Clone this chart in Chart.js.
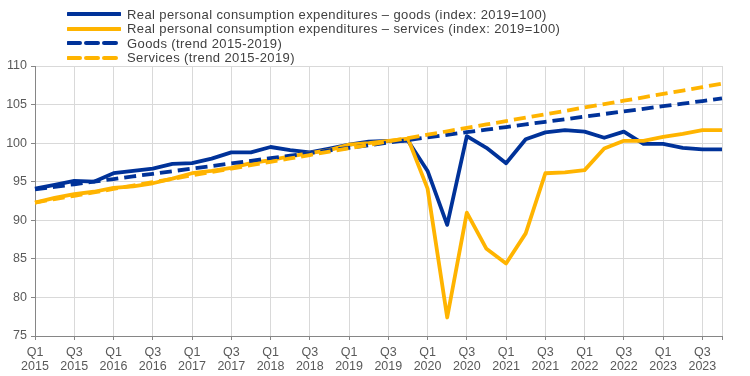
<!DOCTYPE html>
<html>
<head>
<meta charset="utf-8">
<script src="https://cdn.jsdelivr.net/npm/chart.js@4/dist/chart.umd.min.js"></script>
<style>
  html, body { margin: 0; padding: 0; background: #ffffff; }
  #wrap { position: relative; width: 750px; height: 376px; overflow: hidden; }
  #c { position: absolute; left: 0; top: 0; }
  #legend { position: absolute; left: 67px; top: 7px; font-family: "Liberation Sans", Arial, sans-serif; font-size: 13px; color: #404040; letter-spacing: 0.4px; }
  .row { display: flex; align-items: center; height: 14.5px; white-space: nowrap; }
  .row svg { margin-right: 6px; flex: none; }
</style>
</head>
<body>
<div id="wrap">
  <canvas id="c" width="750" height="376"></canvas>
  <div id="legend"></div>
</div>
<script>
// ---- Data ----
const quarters = [
  ['Q1','2015'],['Q2','2015'],['Q3','2015'],['Q4','2015'],
  ['Q1','2016'],['Q2','2016'],['Q3','2016'],['Q4','2016'],
  ['Q1','2017'],['Q2','2017'],['Q3','2017'],['Q4','2017'],
  ['Q1','2018'],['Q2','2018'],['Q3','2018'],['Q4','2018'],
  ['Q1','2019'],['Q2','2019'],['Q3','2019'],['Q4','2019'],
  ['Q1','2020'],['Q2','2020'],['Q3','2020'],['Q4','2020'],
  ['Q1','2021'],['Q2','2021'],['Q3','2021'],['Q4','2021'],
  ['Q1','2022'],['Q2','2022'],['Q3','2022'],['Q4','2022'],
  ['Q1','2023'],['Q2','2023'],['Q3','2023'],['Q4','2023']
];

const goods = [
  94.1, 94.6, 95.1, 95.0, 96.1, 96.4, 96.7, 97.3, 97.4, 98.0,
  98.8, 98.8, 99.5, 99.1, 98.8, 99.3, 99.8, 100.2, 100.3, 100.3,
  96.4, 89.4, 100.9, 99.4, 97.4, 100.5, 101.4, 101.7, 101.5, 100.7,
  101.5, 99.9, 99.9, 99.4, 99.2, 99.2
];

const services = [
  92.3, 92.9, 93.4, 93.7, 94.2, 94.4, 94.8, 95.4, 96.1, 96.4,
  96.8, 97.4, 97.8, 98.3, 98.7, 99.1, 99.8, 100.0, 100.3, 100.6,
  94.1, 77.4, 91.0, 86.3, 84.4, 88.3, 96.1, 96.2, 96.5, 99.3,
  100.3, 100.3, 100.8, 101.2, 101.7, 101.7
];

const goodsTrend = [
  94.00, 94.34, 94.67, 95.01, 95.35, 95.69, 96.02, 96.36, 96.70, 97.03,
  97.37, 97.71, 98.05, 98.38, 98.72, 99.06, 99.39, 99.73, 100.07, 100.41,
  100.74, 101.08, 101.42, 101.75, 102.09, 102.43, 102.77, 103.10, 103.44, 103.78,
  104.11, 104.45, 104.79, 105.12, 105.46, 105.80
];

const servicesTrend = [
  92.30, 92.74, 93.18, 93.62, 94.06, 94.50, 94.94, 95.38, 95.82, 96.26,
  96.70, 97.14, 97.58, 98.02, 98.46, 98.90, 99.34, 99.78, 100.22, 100.66,
  101.10, 101.54, 101.98, 102.42, 102.86, 103.30, 103.74, 104.18, 104.62, 105.06,
  105.50, 105.94, 106.38, 106.82, 107.26, 107.70
];

const seriesNames = [
  'Real personal consumption expenditures \u2013 goods (index: 2019=100)',
  'Real personal consumption expenditures \u2013 services (index: 2019=100)',
  'Goods (trend 2015-2019)',
  'Services (trend 2015-2019)'
];

const yTicks = { min: 75, max: 110, step: 5 };

// ---- Styling ----
const BLUE = '#003299';
const YELLOW = '#FFB400';
const GRID = '#d9d9d9';
const AXIS = '#868686';
const TXT = '#595959';
const DASH = [12, 6];

const styles = [
  { color: BLUE, dash: [] },
  { color: YELLOW, dash: [] },
  { color: BLUE, dash: DASH },
  { color: YELLOW, dash: DASH }
];

const seriesData = [goods, services, goodsTrend, servicesTrend];
const drawOrder = [3, 2, 1, 0];

const datasets = seriesData.map((d, i) => ({
  label: seriesNames[i],
  data: d,
  borderColor: styles[i].color,
  backgroundColor: styles[i].color,
  borderWidth: 3.8,
  borderDash: styles[i].dash,
  borderCapStyle: 'butt',
  borderJoinStyle: 'round',
  pointRadius: 0,
  pointHoverRadius: 0,
  tension: 0,
  fill: false,
  order: drawOrder[i]
}));

// HTML legend
const legend = document.getElementById('legend');
seriesNames.forEach((name, i) => {
  const row = document.createElement('div');
  row.className = 'row';
  const dashAttr = styles[i].dash.length ? `stroke-dasharray="${styles[i].dash.join(' ')}"` : '';
  row.innerHTML = `<svg width="54" height="8"><line x1="1" y1="4" x2="53" y2="4" stroke="${styles[i].color}" stroke-width="4" stroke-linecap="round" ${dashAttr}/></svg><span></span>`;
  row.querySelector('span').textContent = name;
  legend.appendChild(row);
});

Chart.defaults.font.family = '"Liberation Sans", Arial, sans-serif';

new Chart(document.getElementById('c'), {
  type: 'line',
  data: { labels: quarters, datasets },
  options: {
    responsive: false,
    animation: false,
    devicePixelRatio: 1,
    layout: { padding: { top: 66, right: 28, bottom: 0, left: 0 } },
    plugins: { legend: { display: false }, tooltip: { enabled: false } },
    scales: {
      x: {
        type: 'category',
        offset: false,
        afterFit: (s) => { s.height = 40; },
        grid: { color: GRID, lineWidth: 1, tickColor: AXIS, tickLength: 4, drawOnChartArea: true },
        border: { color: AXIS, width: 1 },
        ticks: {
          autoSkip: false,
          maxRotation: 0,
          minRotation: 0,
          padding: 6,
          color: TXT,
          font: { size: 12.5, lineHeight: 1.12 },
          callback: function (value, index) {
            if (index % 2 === 0) return this.getLabelForValue(value);
            if (index === quarters.length - 1) return '';
            return null;
          }
        }
      },
      y: {
        min: yTicks.min,
        max: yTicks.max,
        afterFit: (s) => { s.width = 35; },
        grid: { color: GRID, lineWidth: 1, tickColor: AXIS, tickLength: 4 },
        border: { color: AXIS, width: 1 },
        ticks: {
          stepSize: yTicks.step,
          color: TXT,
          padding: 4,
          font: { size: 12.5 }
        }
      }
    }
  }
});
</script>
</body>
</html>
